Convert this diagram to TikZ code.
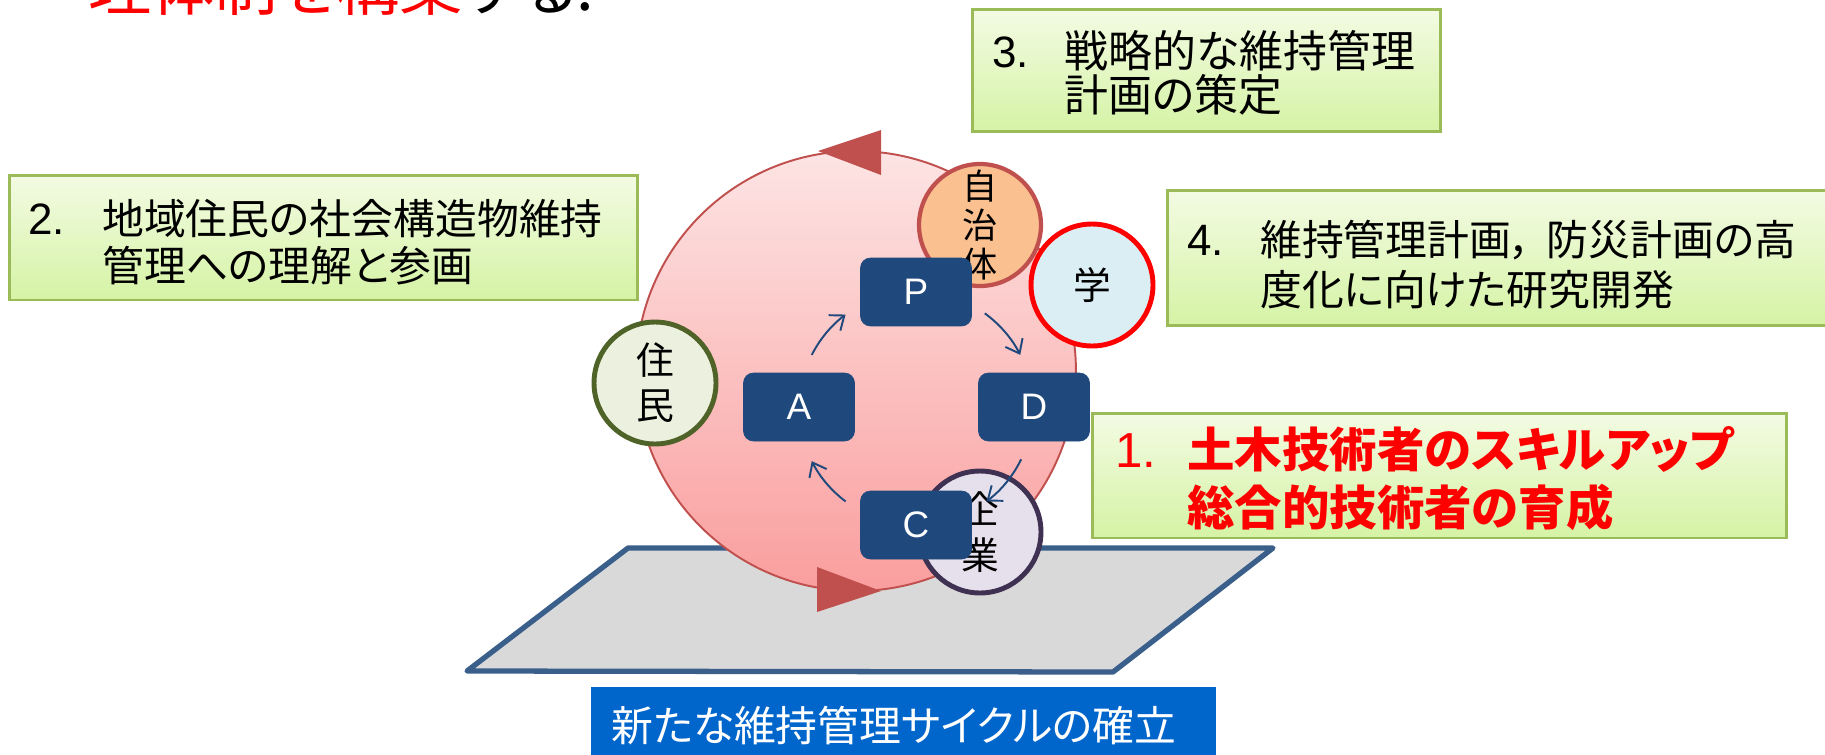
\documentclass[tikz,border=0pt]{standalone}
\usepackage{fontspec}
\setmainfont{Noto Sans CJK JP}[RawFeature={+palt}]
\newfontfamily\lat{Liberation Sans}
\usetikzlibrary{arrows.meta}
\definecolor{boxfillT}{HTML}{F3FBE3}
\definecolor{boxfillB}{HTML}{D5F3A5}
\definecolor{boxline}{HTML}{9BBB59}
\definecolor{pinkT}{HTML}{FDE4E4}
\definecolor{pinkB}{HTML}{FA9E9E}
\definecolor{redline}{HTML}{C0504D}
\definecolor{navy}{HTML}{1F497D}
\definecolor{plate}{HTML}{D9D9D9}
\definecolor{plateline}{HTML}{3A5F8B}
\definecolor{labelblue}{HTML}{0066CC}
\definecolor{jichi}{HTML}{FAC090}
\definecolor{gaku}{HTML}{DBEEF4}
\definecolor{jumin}{HTML}{EBF1DE}
\definecolor{juminline}{HTML}{4F6228}
\definecolor{kigyo}{HTML}{E6E0EC}
\definecolor{kigyoline}{HTML}{3F3151}
\tikzset{
  greenbox/.style={draw=boxline, line width=1.7pt, top color=boxfillT, bottom color=boxfillB, inner sep=0pt},
  txt/.style={inner sep=0pt, anchor=base west, font=\fontsize{23.8}{26}\selectfont},
  numtxt/.style={inner sep=0pt, anchor=base west, font=\lat\fontsize{25}{26}\selectfont},
  redtxt/.style={inner sep=0pt, anchor=base west, text=red, font=\bfseries\fontsize{27}{29}\selectfont},
  rednum/.style={inner sep=0pt, anchor=base west, text=red, font=\lat\fontsize{28}{29}\selectfont},
  pdcabox/.style={fill=navy, draw=navy, rounded corners=0.2cm, minimum width=2.22cm, minimum height=1.36cm, inner sep=0pt, text=white, font=\lat\fontsize{21}{22}\selectfont},
  actor/.style={circle, minimum size=2.44cm, inner sep=0pt, line width=2.8pt, align=center, font=\fontsize{21.5}{25.5}\selectfont},
  cyclearrow/.style={draw=navy, line width=1.1pt, -{Straight Barb[length=7pt,width=11pt]}},
}
\begin{document}
\begin{tikzpicture}[x=0.02cm,y=-0.02cm]
\useasboundingbox (0,0) rectangle (1825,754);
\clip (0,0) rectangle (1825,754);
% base plate
\draw[plateline, line width=3pt, fill=plate, line join=round] (467,671) -- (628,548) -- (1273,548) -- (1113,672) -- cycle;
% big cycle circle
\node[circle, minimum size=8.8cm, inner sep=0pt, draw=redline, line width=1.1pt, top color=pinkT, bottom color=pinkB] (big) at (856,371) {};
\fill[redline] (818,151) -- (881,130) -- (881,175) -- cycle;
\fill[redline] (817,567) -- (881,591) -- (817,612) -- cycle;
% actors
\node[actor, draw=redline, line width=2.4pt, fill=jichi, font=\fontsize{20}{22.1}\selectfont] (jichitai) at (980,225) {自\\治\\体};
\node[actor, draw=red, fill=gaku] (gakku) at (1092,285) {学};
\node[actor, draw=juminline, fill=jumin] (jumin) at (655,383) {住\\民};
\node[actor, draw=kigyoline, fill=kigyo, font=\fontsize{21.5}{26.6}\selectfont] (kigyo) at (980,532) {企\\業};
% PDCA
\coordinate (pdca) at (916,408);
\node[pdcabox] (P) at (916,292) {P};
\node[pdcabox] (A) at (799,407) {A};
\node[pdcabox] (D) at (1034,407) {D};
\node[pdcabox] (C) at (916,525) {C};
\draw[cyclearrow] ([shift={(-153:117)}]pdca) arc[start angle=-153, end angle=-127, radius=117];
\draw[cyclearrow] ([shift={(-54:117)}]pdca) arc[start angle=-54, end angle=-27, radius=117];
\draw[cyclearrow] ([shift={(26:117)}]pdca) arc[start angle=26, end angle=53, radius=117];
\draw[cyclearrow] ([shift={(127:117)}]pdca) arc[start angle=127, end angle=153, radius=117];
% green boxes
\node[greenbox, minimum width=9.38cm, minimum height=2.46cm] (box3) at (1206.5,70.5) {};
\node[numtxt] (n3) at (992,67) {3.};
\node[txt, font=\fontsize{25}{26}\selectfont] (t3a) at (1064,67) {戦略的な維持管理};
\node[txt, font=\fontsize{25}{26}\selectfont] (t3b) at (1064,111) {計画の策定};
\node[greenbox, minimum width=12.58cm, minimum height=2.5cm] (box2) at (323.5,237.5) {};
\node[numtxt] (n2) at (28,234) {2.};
\node[txt] (t2a) at (102,234) {地域住民の社会構造物維持};
\node[txt] (t2b) at (102,281) {管理への理解と参画};
\node[greenbox, minimum width=13.56cm, minimum height=2.72cm] (box4) at (1506,258) {};
\node[numtxt] (n4) at (1187,255) {4.};
\node[txt] (t4a) at (1260,255) {維持管理計画，\hspace{0.35em}防災計画の高};
\node[txt] (t4b) at (1260,305) {度化に向けた研究開発};
\node[greenbox, minimum width=13.9cm, minimum height=2.5cm] (box1) at (1439.5,475.5) {};
\node[rednum] (n1) at (1115,467) {1.};
\node[redtxt] (t1a) at (1187,467) {土木技術者のスキルアップ};
\node[redtxt] (t1b) at (1187,525) {総合的技術者の育成};
% bottom label
\node[fill=labelblue, minimum width=12.5cm, minimum height=1.46cm, inner sep=0pt] (label) at (903.5,723.5) {};
\node[txt, text=white] (labeltext) at (611,741) {新たな維持管理サイクルの確立};
% cropped title
\node[inner sep=0pt, anchor=base west, font=\fontsize{36}{38}\selectfont] (title) at (88,10) {\textcolor{red}{理体制を構築}する.};
\end{tikzpicture}
\end{document}
